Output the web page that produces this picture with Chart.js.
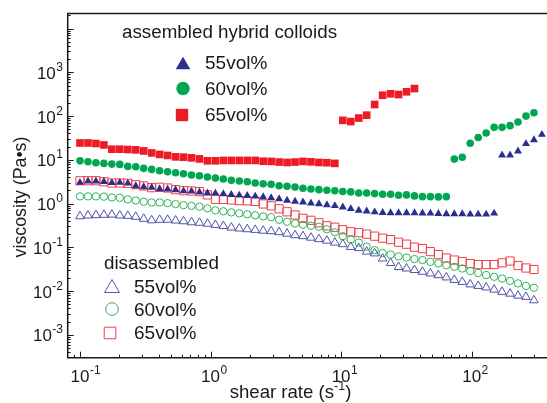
<!DOCTYPE html>
<html>
<head>
<meta charset="utf-8">
<script src="https://cdn.jsdelivr.net/npm/chart.js@4.4.0/dist/chart.umd.min.js"></script>
<style>
  html, body { margin: 0; padding: 0; background: #fff; }
</style>
</head>
<body>
<canvas id="chart" width="547" height="403"></canvas>
<script>
// shear rate grid (s^-1), one value per measured point
const shearRate = [
  0.1, 0.1151, 0.1324, 0.1524, 0.1754, 0.2018, 0.2323, 0.2673, 0.3076, 0.354,
  0.4074, 0.4688, 0.5395, 0.6209, 0.7145, 0.8222, 0.9462, 1.089, 1.253, 1.442,
  1.66, 1.91, 2.198, 2.529, 2.911, 3.35, 3.855, 4.436, 5.105, 5.875,
  6.761, 7.78, 8.954, 10.3, 11.86, 13.65, 15.7, 18.07, 20.8, 23.93,
  27.54, 31.7, 36.48, 41.98, 48.31, 55.59, 63.97, 73.62, 84.72, 97.5,
  112.2, 129.1, 148.6, 171, 196.8, 226.5, 260.6, 299.9, 345.1
];

// assembled hybrid colloids (filled markers)
const assembled55 = [
  3.03, 3.25, 3.25, 3.16, 2.99, 3.03, 2.91, 2.53, 2.40, 2.33,
  2.16, 2.14, 2.05, 1.94, 1.91, 1.82, 1.73, 1.72, 1.66, 1.60,
  1.55, 1.52, 1.47, 1.42, 1.35, 1.28, 1.18, 1.12, 1.08, 1.02,
  0.98, 0.93, 0.89, 0.83, 0.76, 0.70, 0.67, 0.64, 0.62, 0.61,
  0.61, 0.61, 0.61, 0.605, 0.60, 0.59, 0.58, 0.58, 0.58, 0.57,
  0.57, 0.57, 0.60, 12.8, 12.8, 15.8, 23.3, 28.5, 37.8
];
const assembled60 = [
  9.49, 9.01, 8.55, 8.28, 7.99, 7.86, 7.08, 6.93, 6.38, 6.05,
  5.62, 5.34, 5.07, 4.81, 4.49, 4.33, 4.04, 3.84, 3.64, 3.40,
  3.28, 3.16, 2.95, 2.85, 2.76, 2.56, 2.49, 2.40, 2.24, 2.16,
  2.08, 2.02, 1.97, 1.89, 1.85, 1.75, 1.75, 1.69, 1.64, 1.64,
  1.55, 1.58, 1.50, 1.44, 1.44, 1.42, 1.44,
  10.4, 11.5, 24.0, 32.3, 41.1, 55.3, 55.3, 60.5, 73.1, 100, 119
];
const assembled65 = [
  24.3, 24.3, 23.6, 21.9, 17.5, 17.5, 17.2, 16.9, 16.0, 14.4,
  13.3, 12.6, 11.7, 11.5, 11.1, 10.5, 9.5, 9.5, 9.7, 9.7,
  9.7, 9.7, 9.7, 9.3, 9.2, 8.9, 8.7, 8.9, 9.2, 9.0,
  8.7, 8.6, 8.3,
  80, 75, 90, 105, 184, 300, 323, 311, 359, 426
];

// disassembled (open markers)
const disassembled55 = [
  0.512, 0.534, 0.545, 0.554, 0.560, 0.534, 0.525, 0.499, 0.449, 0.415,
  0.426, 0.426, 0.409, 0.394, 0.374, 0.364, 0.346, 0.325, 0.308, 0.283,
  0.269, 0.259, 0.250, 0.240, 0.234, 0.222, 0.205, 0.189, 0.180, 0.166,
  0.154, 0.142, 0.128, 0.118, 0.102, 0.0959, 0.0798, 0.0727, 0.0554, 0.0437,
  0.0355, 0.0328, 0.0303, 0.0276, 0.0253, 0.0231, 0.0205, 0.0180, 0.0162, 0.0142,
  0.0131, 0.0121, 0.0108, 0.00959, 0.00873, 0.00786, 0.00738, 0.00615
];
const disassembled60 = [
  1.46, 1.46, 1.46, 1.44, 1.38, 1.36, 1.25, 1.18, 1.10, 1.06,
  1.06, 1.02, 0.97, 0.92, 0.89, 0.85, 0.78, 0.70, 0.665, 0.63,
  0.60, 0.57, 0.54, 0.51, 0.49, 0.426, 0.384, 0.351, 0.328, 0.311,
  0.295, 0.259, 0.221, 0.180, 0.150, 0.128, 0.104, 0.0863, 0.0738, 0.0683,
  0.0621, 0.0583, 0.0539, 0.0512, 0.0466, 0.0431, 0.0390, 0.0359, 0.0328, 0.0288,
  0.0259, 0.0233, 0.0212, 0.0194, 0.0171, 0.0150, 0.0131, 0.0119
];
const disassembled65 = [
  3.33, 3.33, 3.33, 3.16, 2.95, 2.95, 2.91, 2.70, 2.53, 2.31,
  2.36, 2.27, 2.08, 1.97, 1.94, 1.87, 1.58, 1.25, 1.25, 1.21,
  1.17, 1.15, 1.12, 0.98, 0.89, 0.76, 0.65, 0.55, 0.46, 0.415,
  0.364, 0.311, 0.288, 0.252, 0.227, 0.216, 0.20, 0.180, 0.162, 0.150,
  0.131, 0.118, 0.101, 0.0935, 0.0798, 0.0683, 0.0569, 0.0512, 0.0473, 0.0426,
  0.0404, 0.0404, 0.0404, 0.0442, 0.0486, 0.0384, 0.0337, 0.0311
];

const seriesLabels = ['55vol%', '60vol%', '65vol%'];
const xTicks = [0.1, 1, 10, 100];
const xTickExp = ['-1', '0', '1', '2'];
const yTicks = [0.001, 0.01, 0.1, 1, 10, 100, 1000];
const yTickExp = ['-3', '-2', '-1', '0', '1', '2', '3'];

const FONT = '"Liberation Sans", Arial, Helvetica, sans-serif';
const INK = '#1a1a1a';
const BLUE = '#2b2e8f', GREEN = '#00a651', RED = '#ed1c24';
const BLUE_O = '#5254a6', GREEN_O = '#2fb35a', RED_O = '#ef3f47';

function series(label, values, style, radius, fill, stroke, bw) {
  return {
    label: label,
    data: values.map((v, i) => ({ x: shearRate[i], y: v })),
    pointStyle: style,
    pointRadius: radius,
    pointHoverRadius: radius,
    backgroundColor: fill,
    borderColor: stroke,
    borderWidth: bw,
    showLine: false,
    clip: false
  };
}

function marker(ctx, style, x, y, r, fill, stroke, lw) {
  ctx.beginPath();
  if (style === 'triangle') {
    const w = r * 0.866;
    ctx.moveTo(x, y - r * 0.75);
    ctx.lineTo(x + w, y + r * 0.75);
    ctx.lineTo(x - w, y + r * 0.75);
    ctx.closePath();
  } else if (style === 'circle') {
    ctx.arc(x, y, r, 0, Math.PI * 2);
  } else {
    ctx.rect(x - r, y - r, 2 * r, 2 * r);
  }
  if (fill) { ctx.fillStyle = fill; ctx.fill(); }
  if (stroke) { ctx.strokeStyle = stroke; ctx.lineWidth = lw; ctx.stroke(); }
}

function powLabel(ctx, exp, x, y, align) {
  ctx.font = '17px ' + FONT;
  const bw = ctx.measureText('10').width;
  ctx.font = '12px ' + FONT;
  const ew = ctx.measureText(exp).width;
  let left;
  if (align === 'right') left = x - ew - bw - 0.5;
  else left = x - bw / 2;
  ctx.textAlign = 'left';
  ctx.textBaseline = 'alphabetic';
  ctx.font = '17px ' + FONT;
  ctx.fillText('10', left, y);
  ctx.font = '12px ' + FONT;
  ctx.fillText(exp, left + bw + 0.5, y - 8);
}

const decorPlugin = {
  id: 'decor',
  afterDraw(chart) {
    const ctx = chart.ctx;
    const a = chart.chartArea;
    const xs = chart.scales.x, ys = chart.scales.y;
    ctx.save();
    ctx.fillStyle = INK;
    ctx.strokeStyle = INK;

    // frame
    ctx.lineWidth = 1.5;
    ctx.beginPath();
    ctx.moveTo(a.right + 2, a.top);
    ctx.lineTo(a.left, a.top);
    ctx.lineTo(a.left, a.bottom);
    ctx.lineTo(a.right + 2, a.bottom);
    ctx.stroke();

    // inward log ticks
    ctx.lineWidth = 1;
    ctx.beginPath();
    for (let d = -2; d <= 2; d++) {
      for (let m = 1; m <= 9; m++) {
        const px = xs.getPixelForValue(m * Math.pow(10, d));
        if (px < a.left + 1 || px > a.right) continue;
        const len = m === 1 ? 6 : 3;
        ctx.moveTo(Math.round(px) + 0.5, a.bottom);
        ctx.lineTo(Math.round(px) + 0.5, a.bottom - len);
      }
    }
    for (let d = -4; d <= 4; d++) {
      for (let m = 1; m <= 9; m++) {
        const py = ys.getPixelForValue(m * Math.pow(10, d));
        if (py < a.top + 1 || py > a.bottom - 1) continue;
        const len = m === 1 ? 6 : 3;
        ctx.moveTo(a.left, Math.round(py) + 0.5);
        ctx.lineTo(a.left + len, Math.round(py) + 0.5);
      }
    }
    ctx.stroke();

    // tick labels
    xTicks.forEach((v, i) => {
      powLabel(ctx, xTickExp[i], xs.getPixelForValue(v), a.bottom + 24.5, 'center');
    });
    yTicks.forEach((v, i) => {
      powLabel(ctx, yTickExp[i], 63, ys.getPixelForValue(v) + 6.5, 'right');
    });

    // x title with superscript
    ctx.textBaseline = 'alphabetic';
    ctx.textAlign = 'left';
    ctx.font = '18.6px ' + FONT;
    const t1 = 'shear rate (s', t3 = ')';
    const w1 = ctx.measureText(t1).width, w3 = ctx.measureText(t3).width;
    ctx.font = '12.5px ' + FONT;
    const t2 = '-1', w2 = ctx.measureText(t2).width;
    let lx = 290.5 - (w1 + w2 + w3) / 2;
    ctx.font = '18.6px ' + FONT;
    ctx.fillText(t1, lx, 398);
    ctx.font = '12.5px ' + FONT;
    ctx.fillText(t2, lx + w1, 390);
    ctx.font = '18.6px ' + FONT;
    ctx.fillText(t3, lx + w1 + w2, 398);

    // y title
    ctx.save();
    ctx.translate(21, 197);
    ctx.rotate(-Math.PI / 2);
    ctx.textAlign = 'center';
    ctx.textBaseline = 'middle';
    ctx.font = '17.8px ' + FONT;
    ctx.fillText('viscosity (Pa\u2022s)', 0, 0);
    ctx.restore();

    // legend: assembled
    ctx.textAlign = 'left';
    ctx.textBaseline = 'middle';
    ctx.fillStyle = INK;
    ctx.font = '18.8px ' + FONT;
    ctx.fillText('assembled hybrid colloids', 122, 33);
    marker(ctx, 'triangle', 183, 63, 8.4, BLUE, null, 0);
    marker(ctx, 'circle', 183, 88.5, 6.7, GREEN, null, 0);
    marker(ctx, 'rect', 182, 115, 6.2, RED, null, 0);
    ctx.fillStyle = INK;
    ctx.font = '19px ' + FONT;
    ctx.fillText(seriesLabels[0], 205, 63.5);
    ctx.fillText(seriesLabels[1], 205, 89.5);
    ctx.fillText(seriesLabels[2], 205, 115.5);

    // legend: disassembled
    ctx.font = '18.8px ' + FONT;
    ctx.fillText('disassembled', 104, 263.5);
    marker(ctx, 'triangle', 112, 286, 8.6, null, BLUE_O, 1);
    marker(ctx, 'circle', 112, 309, 6.3, null, GREEN_O, 1);
    marker(ctx, 'rect', 110, 333, 5.8, null, RED_O, 1);
    ctx.fillStyle = INK;
    ctx.font = '19px ' + FONT;
    ctx.fillText(seriesLabels[0], 134, 287.5);
    ctx.fillText(seriesLabels[1], 134, 310.5);
    ctx.fillText(seriesLabels[2], 134, 334);
    ctx.restore();
  }
};

new Chart(document.getElementById('chart'), {
  type: 'scatter',
  data: {
    datasets: [
      series('assembled 55vol%', assembled55, 'triangle', 4.6, BLUE, BLUE, 0),
      series('assembled 60vol%', assembled60, 'circle', 3.8, GREEN, GREEN, 0),
      series('assembled 65vol%', assembled65, 'rect', 5.4, RED, RED, 0),
      series('disassembled 55vol%', disassembled55, 'triangle', 5, 'rgba(0,0,0,0)', BLUE_O, 1),
      series('disassembled 60vol%', disassembled60, 'circle', 3.7, 'rgba(0,0,0,0)', GREEN_O, 1),
      series('disassembled 65vol%', disassembled65, 'rect', 5.8, 'rgba(0,0,0,0)', RED_O, 1)
    ]
  },
  options: {
    responsive: false,
    animation: false,
    events: [],
    layout: { autoPadding: false, padding: { top: 13.5, right: 0, left: 0, bottom: 0 } },
    plugins: {
      legend: { display: false },
      tooltip: { enabled: false }
    },
    scales: {
      x: {
        type: 'logarithmic',
        min: 0.0805,
        max: 377.6,
        grid: { display: false },
        border: { display: false },
        ticks: { display: false },
        afterFit(scale) { scale.height = 45.3; }
      },
      y: {
        type: 'logarithmic',
        min: 3.334e-4,
        max: 22130,
        grid: { display: false },
        border: { display: false },
        ticks: { display: false },
        afterFit(scale) { scale.width = 67.7; }
      }
    }
  },
  plugins: [decorPlugin]
});
</script>
</body>
</html>
